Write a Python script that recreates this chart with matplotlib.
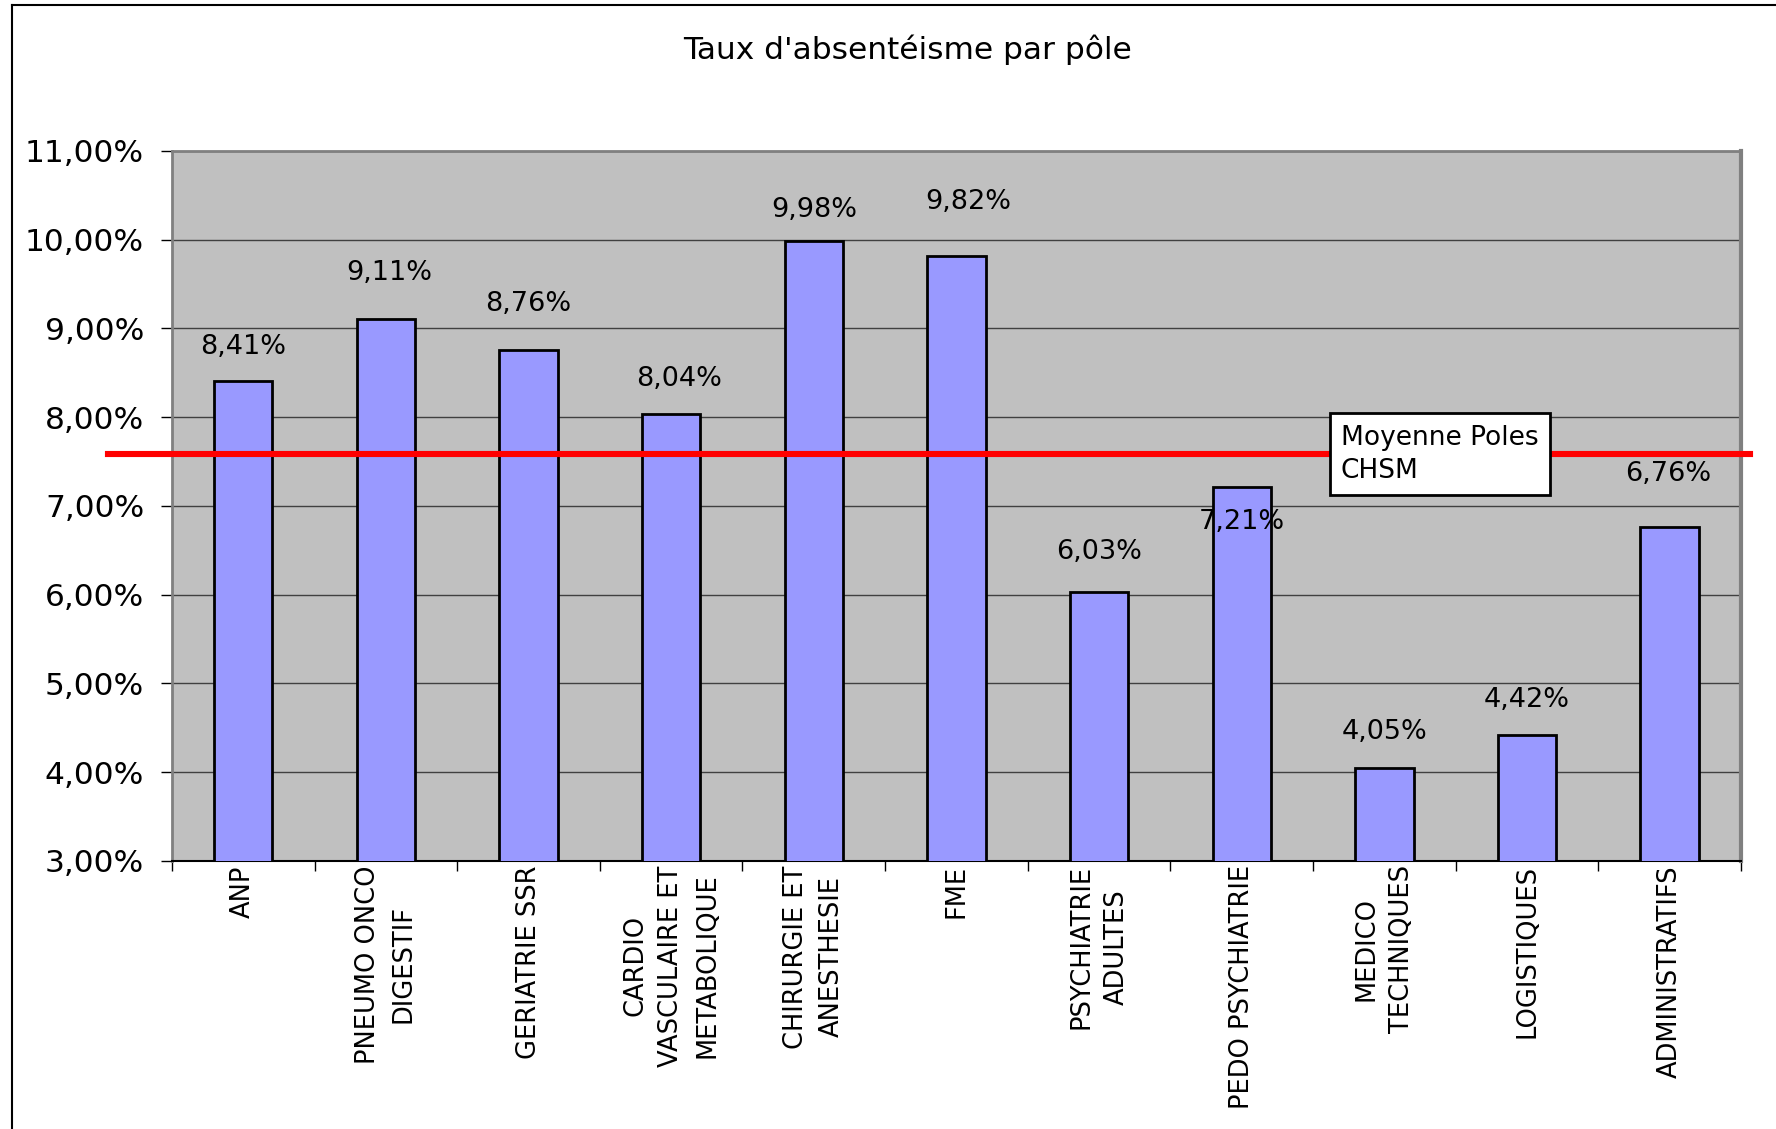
import numpy as np
import matplotlib
matplotlib.use("Agg")
import matplotlib.pyplot as plt
from matplotlib.ticker import FuncFormatter, FixedLocator
from matplotlib.lines import Line2D
import matplotlib.transforms as mtransforms

# Data
poles = ["ANP", "PNEUMO ONCO\nDIGESTIF", "GERIATRIE SSR",
         "CARDIO\nVASCULAIRE ET\nMETABOLIQUE", "CHIRURGIE ET\nANESTHESIE",
         "FME", "PSYCHIATRIE\nADULTES", "PEDO PSYCHIATRIE",
         "MEDICO\nTECHNIQUES", "LOGISTIQUES", "ADMINISTRATIFS"]
taux = [8.41, 9.11, 8.76, 8.04, 9.98, 9.82, 6.03, 7.21, 4.05, 4.42, 6.76]
moyenne = 7.59
y_ticks = [3, 4, 5, 6, 7, 8, 9, 10, 11]

# label offsets (pixels) from bar top, as placed in the original sheet
label_dx = [0, 3, 0, 8, 0, 12, 0, 0, 0, 0, -2]
label_dy = [34, 46, 46, 35, 31, 54, 40, -35, 36, 35, 53]

fig = plt.figure(figsize=(17.76, 11.29), dpi=100)
ax = fig.add_axes([0.0968, 0.2374, 0.8835, 0.6289])
ax.set_facecolor("#C0C0C0")

x = np.arange(len(poles))
ax.bar(x, taux, width=0.41, color="#9999FF", edgecolor="black",
       linewidth=2, zorder=3)

ax.set_xlim(-0.5, len(poles) - 0.5)
ax.set_ylim(3, 11)

# grid
ax.set_yticks(y_ticks)
ax.yaxis.grid(True, color="#404040", linewidth=1.0, zorder=0)
ax.set_axisbelow(True)
ax.yaxis.set_major_formatter(FuncFormatter(lambda v, p: f"{v:.2f}%".replace(".", ",")))
ax.tick_params(axis="y", direction="out", length=8, width=1, color="black",
               labelsize=22.5, pad=12)

# x ticks: marks at boundaries, labels at centres
ax.set_xticks(x)
ax.set_xticklabels(poles, rotation=90, ha="center", va="top",
                   multialignment="center", linespacing=1.5, fontsize=18.5)
ax.tick_params(axis="x", which="major", length=0, pad=3)
ax.xaxis.set_minor_locator(FixedLocator(np.arange(-0.5, len(poles), 1)))
ax.tick_params(axis="x", which="minor", direction="out", length=7, width=1, color="black")

for side in ["left", "top", "right"]:
    ax.spines[side].set_color("#808080")
    ax.spines[side].set_linewidth(2)
ax.spines["right"].set_linewidth(3)
ax.spines["bottom"].set_color("black")
ax.spines["bottom"].set_linewidth(1.5)

# value labels
for i, v in enumerate(taux):
    ax.annotate(f"{v:.2f}%".replace(".", ","), xy=(i, v),
                xytext=(label_dx[i], label_dy[i]), textcoords="offset pixels",
                ha="center", va="center", fontsize=19.5, zorder=5)

# average line extending beyond the plot area
trans = mtransforms.blended_transform_factory(ax.transAxes, ax.transData)
ax.plot([-0.041, 1.006], [moyenne, moyenne], transform=trans, color="#FF0000",
        linewidth=4.4, clip_on=False, zorder=4)

ax.text(0.745, 0.6147, "Moyenne Poles\nCHSM", transform=ax.transAxes,
        ha="left", va="top", fontsize=19, linespacing=1.35, zorder=6,
        bbox=dict(boxstyle="square,pad=0.42", facecolor="white",
                  edgecolor="black", linewidth=2))

fig.text(0.511, 0.9557, "Taux d'absentéisme par pôle", ha="center",
         va="center", fontsize=22.5)

# outer chart border (left and top only visible)
fig.add_artist(Line2D([0.0068, 0.0068], [0.0, 0.9956], color="black", linewidth=1.5))
fig.add_artist(Line2D([0.0068, 1.0], [0.9956, 0.9956], color="black", linewidth=1.5))

fig.savefig("out.png", dpi=100)
